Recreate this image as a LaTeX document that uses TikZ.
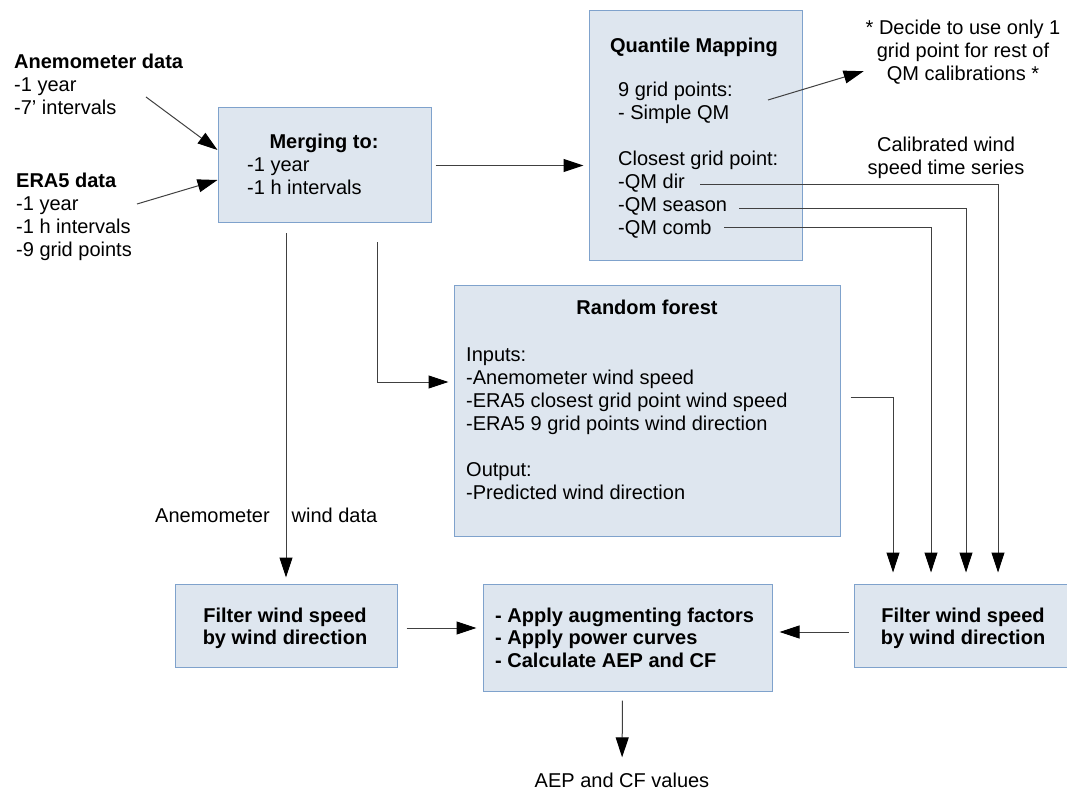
\documentclass[tikz,border=0pt]{standalone}
\usepackage{fontspec}
\setmainfont{Liberation Sans}
\usetikzlibrary{arrows.meta}

\definecolor{boxfill}{HTML}{DEE6EF}
\definecolor{boxline}{HTML}{7FA2CC}

\begin{document}
\begin{tikzpicture}[x=1pt,y=-1pt,font=\fontsize{20}{23}\selectfont,
  box/.style={draw=boxline,fill=boxfill,line width=1pt,inner sep=0pt},
  txt/.style={inner sep=0pt,align=left},
  flow/.style={draw=black!75,line width=1pt,shorten >=5pt,-{Triangle[length=20pt,width=13pt,color=black]}}]
\useasboundingbox (0,0) rectangle (1067,791);

\node[box,minimum width=213pt,minimum height=115pt] (merge) at (324.5,165.5) {};
\node[box,minimum width=213pt,minimum height=250pt] (qm) at (695.5,136) {};
\node[box,minimum width=386pt,minimum height=250pt] (rf) at (647,411) {};
\node[box,minimum width=222pt,minimum height=83pt] (filtl) at (286,625.5) {};
\node[box,minimum width=289pt,minimum height=107pt] (apply) at (627.5,637.5) {};
\node[box,minimum width=222pt,minimum height=83pt] (filtr) at (965,625.5) {};

\coordinate (ane) at (146,97);
\coordinate (era) at (137,204);
\coordinate (simple) at (768,100);
\coordinate (dir) at (700,185);
\coordinate (season) at (739,209);
\coordinate (comb) at (724,228);

\node[txt,anchor=base west] (anetxt) at (14,115) {\textbf{Anemometer data}\\-1 year\\-7' intervals};
\node[txt,anchor=base west] (eratxt) at (16,257) {\textbf{ERA5 data}\\-1 year\\-1 h intervals\\-9 grid points};
\node[txt,anchor=base,font=\fontsize{20}{23}\selectfont\bfseries] (mergehead) at (324,149) {Merging to:};
\node[txt,anchor=base west] (mergetxt) at (247,195) {-1 year\\-1 h intervals};
\node[txt,anchor=base,font=\fontsize{20}{23}\selectfont\bfseries] (qmhead) at (694,53) {Quantile Mapping};
\node[txt,anchor=base west] (qmtxt) at (618,235) {9 grid points:\\- Simple QM\\[23pt]Closest grid point:\\-QM dir\\-QM season\\-QM comb};
\node[txt,align=center,anchor=base] (note) at (963,81) {* Decide to use only 1\\grid point for rest of\\QM calibrations *};
\node[txt,align=center,anchor=base] (calib) at (946,175) {Calibrated wind\\speed time series};
\node[txt,anchor=base,font=\fontsize{20}{23}\selectfont\bfseries] (rfhead) at (647,315) {Random forest};
\node[txt,anchor=base west] (rftxt) at (466,499) {Inputs:\\-Anemometer wind speed\\-ERA5 closest grid point wind speed\\-ERA5 9 grid points wind direction\\[23pt]Output:\\-Predicted wind direction};
\node[txt,anchor=base west] (anewind) at (155,522) {Anemometer\hspace{22pt}wind data};
\node[txt,align=center,anchor=base,font=\fontsize{20}{22.5}\selectfont\bfseries] (filtltxt) at (285,644.5) {Filter wind speed\\by wind direction};
\node[txt,anchor=base west,font=\fontsize{20}{22.5}\selectfont\bfseries] (applytxt) at (495,667) {- Apply augmenting factors\\- Apply power curves\\- Calculate AEP and CF};
\node[txt,align=center,anchor=base,font=\fontsize{20}{22.5}\selectfont\bfseries] (filtrtxt) at (963,644.5) {Filter wind speed\\by wind direction};
\node[txt,anchor=base] (result) at (622,787) {AEP and CF values};

\draw[flow,shorten >=0pt] (ane) -- ([yshift=15.5pt]merge.west);
\draw[flow,shorten >=0pt] (era) -- ([yshift=-14.5pt]merge.west);
\draw[flow] ([xshift=4pt]merge.east) -- (merge.east -| qm.west);
\draw[flow,shorten >=2pt] (simple) -- ([yshift=-18pt]note.west);
\foreach \c/\s in {dir/33,season/1,comb/-34}
  \draw[flow,shorten >=11pt] (\c) -| ([xshift=\s pt]filtr.north);
\draw[flow,shorten >=11pt] ([xshift=10pt,yshift=14pt]rf.east) -| ([xshift=-72pt]filtr.north);
\draw[flow,shorten <=10pt,shorten >=6pt] (merge.south -| filtl.north) -- (filtl.north);
\draw[flow,shorten <=19pt] ([xshift=52.5pt]merge.south) |- ([yshift=29pt]rf.west);
\draw[flow,shorten >=6pt] ([xshift=9pt,yshift=-2.5pt]filtl.east) -- ([yshift=9.5pt]apply.west);
\draw[flow,shorten >=7pt] ([xshift=-5pt,yshift=-6.5pt]filtr.west) -- ([yshift=5.5pt]apply.east);
\draw[flow,shorten <=9pt,shorten >=15pt] ([xshift=-5pt]apply.south) -- (result.north);
\end{tikzpicture}
\end{document}
